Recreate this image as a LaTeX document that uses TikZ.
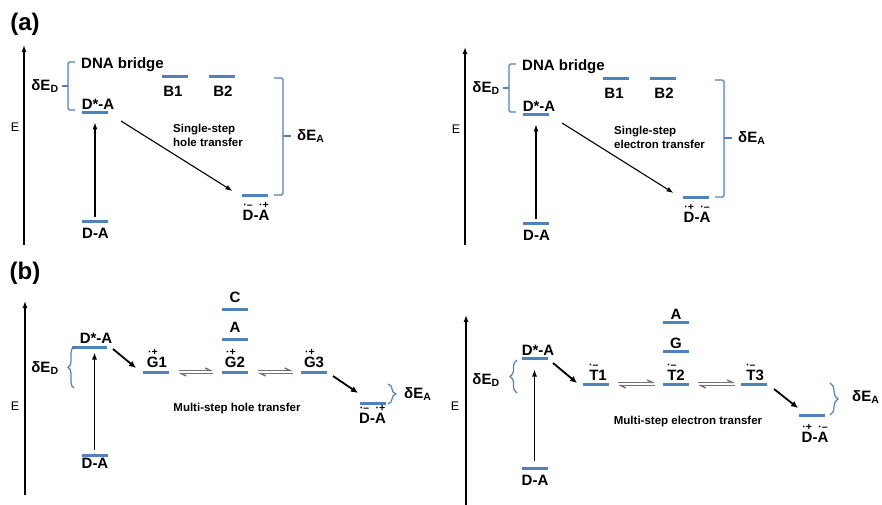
\documentclass[tikz,border=0pt]{standalone}
\usepackage{fontspec}
\setmainfont{Liberation Sans}
\usetikzlibrary{arrows.meta,decorations.pathreplacing}
\definecolor{lblue}{RGB}{79,129,189}
\newcommand\rad[2]{\vbox{\offinterlineskip\halign{\hfil##\hfil\cr{\fontsize{10.5}{10.5}\selectfont ·#2}\cr\noalign{\kern1pt}#1\cr}}}
\begin{document}
\begin{tikzpicture}[x=1pt,y=-1pt,
 lvl/.style={fill=lblue, minimum width=26pt, minimum height=3pt, inner sep=0pt, outer sep=0pt, draw=none},
 lab/.style={font=\fontsize{15}{15}\selectfont\bfseries, inner sep=0pt, anchor=base},
 small/.style={font=\fontsize{11.5}{14}\selectfont\bfseries, inner sep=0pt, align=left},
 elab/.style={font=\fontsize{12.5}{12.5}\selectfont, inner sep=0pt, anchor=base},
 dlab/.style={font=\fontsize{15}{15}\selectfont\bfseries, inner sep=0pt},
 plab/.style={font=\fontsize{24}{24}\selectfont\bfseries, inner sep=0pt},
 axis/.style={line width=1.3pt, -{Latex[length=7pt,width=5pt]}},
 arr/.style={line width=1.1pt, -{Latex[length=7pt,width=5pt]}},
 tarr/.style={line width=1.8pt, -{Latex[length=7pt,width=6.5pt]}},
 brk/.style={lblue, line width=1.3pt, rounded corners=1.5pt},
 brc/.style={lblue, line width=1.2pt, decorate, decoration={brace, amplitude=#1}},
 brc/.default=7pt,
 eqa/.style={black!55, line width=1.5pt, -{Straight Barb[left,length=4.5pt,width=4.5pt]}}
]
\useasboundingbox (0,0) rectangle (882,505);

% ================= (a) left =================
\node[plab] (pa) at (25,24) {(a)};
\coordinate (a1ax0) at (24,245); \coordinate (a1ax1) at (24,45);
\draw[axis] (a1ax0) -- (a1ax1);
\node[elab] (a1E) at (15,132) {E};
\node[dlab] (a1dD) at (45,86) {δE\textsubscript{D}};
\draw[brk] (75,62) -- (68,62) -- (68,110) -- (75,110);
\draw[brk] (68,86) -- (62,86);
\node[lab, anchor=base west] (a1dna) at (81,69) {DNA bridge};
\node[lvl] (a1b1) at (174.5,77) {}; \node[lab] (a1b1l) at (173,97) {B1};
\node[lvl] (a1b2) at (222,77) {};   \node[lab] (a1b2l) at (223,97) {B2};
\node[lvl] (a1ex) at (95,113) {};   \node[lab] (a1exl) at (98,110) {D*-A};
\node[lvl] (a1gs) at (95,221) {};   \node[lab] (a1gsl) at (95.5,238) {D-A};
\node[lvl] (a1ct) at (254.5,195) {};
\node[lab] (a1ctl) at (256,220) {\rad{D}{–}-\rad{A}{+}};
\draw[arr, shorten <=3pt, shorten >=8pt] (a1gs) -- (a1ex);
\draw[arr] ([xshift=13pt,yshift=-8pt]a1ex.east) -- ([xshift=-9pt,yshift=4pt]a1ct.west);
\node[small, anchor=west] (a1t) at (173,135) {Single-step\\hole transfer};
\draw[brk] (274,78) -- (283,78) -- (283,195) -- (274,195);
\draw[brk] (283,136) -- (291,136);
\node[dlab, anchor=west] (a1dA) at (297,136) {δE\textsubscript{A}};

% ================= (a) right =================
\begin{scope}[shift={(441,2)}]
\coordinate (a2ax0) at (24,243); \coordinate (a2ax1) at (24,45);
\draw[axis] (a2ax0) -- (a2ax1);
\node[elab] (a2E) at (15,132) {E};
\node[dlab] (a2dD) at (45,86) {δE\textsubscript{D}};
\draw[brk] (75,62) -- (68,62) -- (68,110) -- (75,110);
\draw[brk] (68,86) -- (62,86);
\node[lab, anchor=base west] (a2dna) at (81,69) {DNA bridge};
\node[lvl] (a2b1) at (174.5,77) {}; \node[lab] (a2b1l) at (173,97) {B1};
\node[lvl] (a2b2) at (222,77) {};   \node[lab] (a2b2l) at (223,97) {B2};
\node[lvl] (a2ex) at (95,113) {};   \node[lab] (a2exl) at (98,110) {D*-A};
\node[lvl] (a2gs) at (95,221) {};   \node[lab] (a2gsl) at (95.5,238) {D-A};
\node[lvl] (a2ct) at (254.5,195) {};
\node[lab] (a2ctl) at (256,220) {\rad{D}{+}-\rad{A}{–}};
\draw[arr, shorten <=3pt, shorten >=8pt] (a2gs) -- (a2ex);
\draw[arr] ([xshift=13pt,yshift=-8pt]a2ex.east) -- ([xshift=-9pt,yshift=4pt]a2ct.west);
\node[small, anchor=west] (a2t) at (173,135) {Single-step\\electron transfer};
\draw[brk] (274,78) -- (283,78) -- (283,195) -- (274,195);
\draw[brk] (283,136) -- (291,136);
\node[dlab, anchor=west] (a2dA) at (297,136) {δE\textsubscript{A}};
\end{scope}

% ================= (b) left =================
\node[plab] (pb) at (25,273) {(b)};
\coordinate (b1ax0) at (25,495); \coordinate (b1ax1) at (25,301);
\draw[axis] (b1ax0) -- (b1ax1);
\node[elab] (b1E) at (15,410) {E};
\node[dlab] (b1dD) at (45,368) {δE\textsubscript{D}};
\draw[brc=6pt] (74,388) -- (74,347);
\node[lvl, minimum width=35pt] (b1ex) at (89.5,347) {};
\node[lab] (b1exl) at (96,343) {D*-A};
\node[lvl] (b1gs) at (94.5,455) {}; \node[lab] (b1gsl) at (95,468) {D-A};
\draw[arr, shorten <=3.5pt, shorten >=4pt] (b1gs.north) -- (b1gs.north |- b1ex.south);
\node[lvl] (b1g1) at (155.5,372) {}; \node[lab] (b1g1l) at (157,367) {\rad{G}{+}1};
\node[lvl] (b1g2) at (235,372) {};   \node[lab] (b1g2l) at (235,367) {\rad{G}{+}2};
\node[lvl] (b1a) at (235,339) {};    \node[lab] (b1al) at (235,332) {A};
\node[lvl] (b1c) at (235,309) {};    \node[lab] (b1cl) at (235,302) {C};
\node[lvl] (b1g3) at (313.5,372) {}; \node[lab] (b1g3l) at (314,367) {\rad{G}{+}3};
\node[lvl] (b1ct) at (372.5,403) {};
\node[lab] (b1ctl) at (372.5,423) {\rad{D}{–}-\rad{A}{+}};
\draw[tarr] ([xshift=6pt,yshift=-2pt]b1ex.east) -- ([xshift=-6.5pt,yshift=4pt]b1g1.west);
\draw[eqa] ([xshift=10pt,yshift=1.7pt]b1g1.east) -- ([xshift=-9pt,yshift=1.7pt]b1g2.west);
\draw[eqa] ([xshift=-9pt,yshift=-1.7pt]b1g2.west) -- ([xshift=10pt,yshift=-1.7pt]b1g1.east);
\draw[eqa] ([xshift=10pt,yshift=1.7pt]b1g2.east) -- ([xshift=-8pt,yshift=1.7pt]b1g3.west);
\draw[eqa] ([xshift=-8pt,yshift=-1.7pt]b1g3.west) -- ([xshift=10pt,yshift=-1.7pt]b1g2.east);
\draw[tarr] ([xshift=6.5pt,yshift=-4pt]b1g3.east) -- ([xshift=-1.5pt,yshift=10pt]b1ct.west);
\node[small, anchor=center] (b1t) at (237,409) {Multi-step hole transfer};
\draw[brc=8pt] (388,384) -- (388,404);
\node[dlab, anchor=west] (b1dA) at (404,394) {δE\textsubscript{A}};

% ================= (b) right =================
\coordinate (b2ax0) at (466,506); \coordinate (b2ax1) at (466,315);
\draw[axis] (b2ax0) -- (b2ax1);
\node[elab] (b2E) at (455,410) {E};
\node[dlab] (b2dD) at (486,380) {δE\textsubscript{D}};
\draw[brc=7pt] (517,393) -- (517,360);
\node[lvl] (b2ex) at (534.5,358) {}; \node[lab] (b2exl) at (538,355) {D*-A};
\node[lvl] (b2gs) at (534.5,468) {}; \node[lab] (b2gsl) at (535,485) {D-A};
\draw[arr, shorten <=6pt, shorten >=10pt] (b2gs) -- (b2ex);
\node[lvl] (b2t1) at (596,384) {};   \node[lab] (b2t1l) at (598,380) {\rad{T}{–}1};
\node[lvl] (b2t2) at (675.5,384) {}; \node[lab] (b2t2l) at (676,380) {\rad{T}{–}2};
\node[lvl] (b2g) at (675.5,351) {};  \node[lab] (b2gl) at (676,348) {G};
\node[lvl] (b2a) at (675.5,322) {};  \node[lab] (b2al) at (676,319.5) {A};
\node[lvl] (b2t3) at (754,384) {};   \node[lab] (b2t3l) at (755,380) {\rad{T}{–}3};
\node[lvl] (b2ct) at (812,415) {};
\node[lab] (b2ctl) at (815,442) {\rad{D}{+}-\rad{A}{–}};
\draw[tarr] ([xshift=5.5pt,yshift=-5pt]b2ex.east) -- ([xshift=-6pt,yshift=1pt]b2t1.west);
\draw[eqa] ([xshift=9pt,yshift=1.7pt]b2t1.east) -- ([xshift=-7.5pt,yshift=1.7pt]b2t2.west);
\draw[eqa] ([xshift=-7.5pt,yshift=-1.7pt]b2t2.west) -- ([xshift=9pt,yshift=-1.7pt]b2t1.east);
\draw[eqa] ([xshift=9.5pt,yshift=1.7pt]b2t2.east) -- ([xshift=-6pt,yshift=1.7pt]b2t3.west);
\draw[eqa] ([xshift=-6pt,yshift=-1.7pt]b2t3.west) -- ([xshift=9.5pt,yshift=-1.7pt]b2t2.east);
\draw[tarr] ([xshift=7pt,yshift=-5pt]b2t3.east) -- ([xshift=-1pt,yshift=7pt]b2ct.west);
\node[small, anchor=center] (b2t) at (688,422) {Multi-step electron transfer};
\draw[brc=8pt] (830,383) -- (830,415);
\node[dlab, anchor=west] (b2dA) at (852,397) {δE\textsubscript{A}};
\end{tikzpicture}
\end{document}
